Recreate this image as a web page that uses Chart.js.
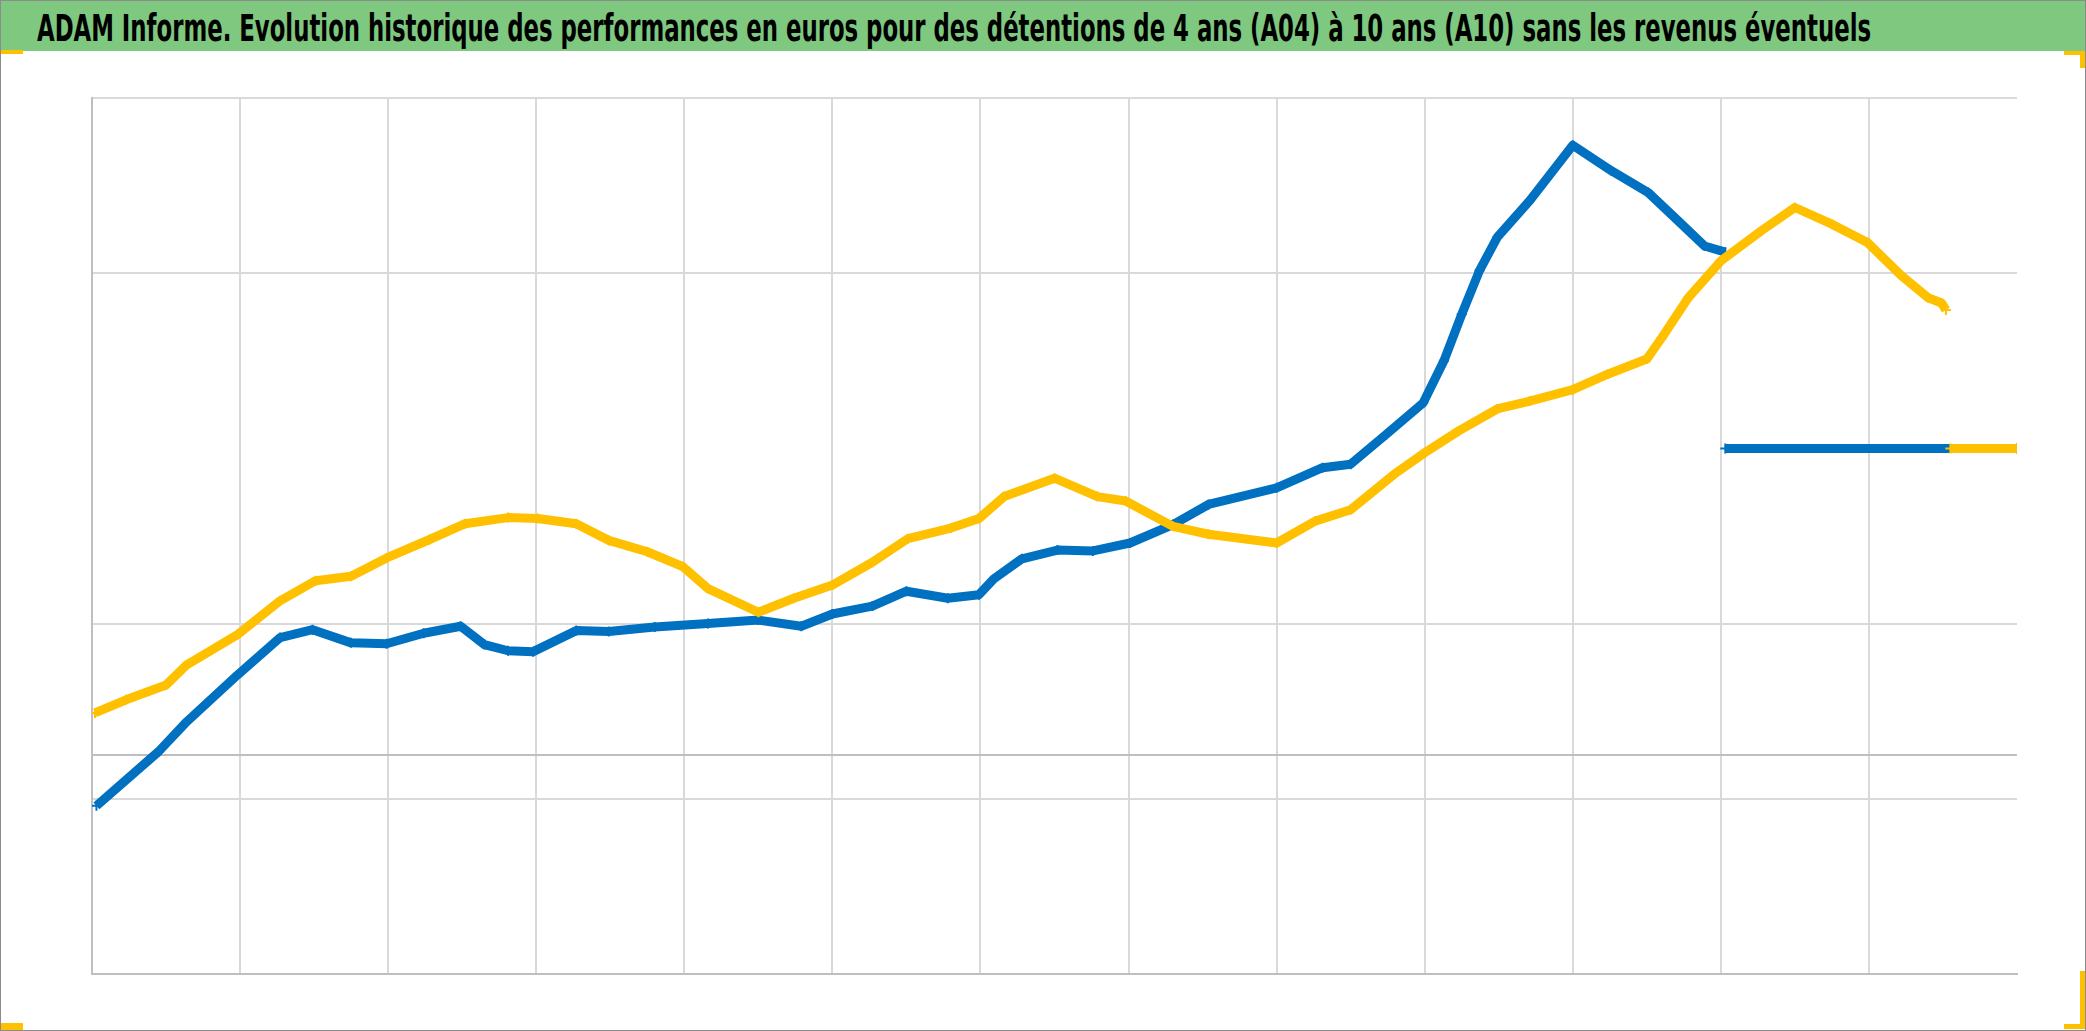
<!DOCTYPE html>
<html>
<head>
<meta charset="utf-8">
<script src="https://cdn.jsdelivr.net/npm/chart.js@4/dist/chart.umd.min.js"></script>
<style>
  html, body { margin: 0; padding: 0; background: #fff; }
  #frame {
    position: relative; width: 2086px; height: 1031px; overflow: hidden;
    box-sizing: border-box; border: 1px solid #8c8c8c; background: #fff;
  }
  #banner {
    position: absolute; left: 0; top: 0; width: 2086px; height: 50px;
    background: #7ec87f;
  }
  #title {
    position: absolute; left: 36px; top: 6px; white-space: nowrap;
    font-family: "Liberation Sans Narrow", "DejaVu Sans Condensed", sans-serif;
    font-weight: bold; font-size: 37px; line-height: 44px; color: #000;
    transform-origin: 0 0;
  }
  #box { position: absolute; left: 0; top: 50px; width: 2086px; height: 981px; }
  .mark { position: absolute; background: #ffc000; }
</style>
</head>
<body>
<div id="frame">
  <div id="banner"><div id="title">ADAM Informe. Evolution historique des performances en euros pour des détentions de 4 ans (A04) à 10 ans (A10) sans les revenus éventuels</div></div>
  <div id="box"><canvas id="my-chart"></canvas></div>
  <div class="mark" style="left:0;top:49px;width:22px;height:4px"></div>
  <div class="mark" style="left:0;top:1022px;width:22px;height:7px"></div>
  <div class="mark" style="left:2063px;top:50px;width:21px;height:4px"></div>
  <div class="mark" style="left:2079px;top:50px;width:5px;height:17px"></div>
  <div class="mark" style="left:2079px;top:970px;width:5px;height:58px"></div>
  <div class="mark" style="left:2063px;top:1023px;width:21px;height:5px"></div>
</div>
<script>
/* Performance history, A04 (blue) and A10 (yellow) */
const xGrid = [0, 1, 2, 3, 4, 5, 6, 7, 8, 9, 10, 11, 12, 13]
const yGrid = [0, 20, 25, 40, 80, 100]

const xA04 = [0.03, 0.45, 0.64, 0.98, 1.27, 1.49, 1.75, 1.99, 2.24, 2.49, 2.65, 2.81, 2.98, 3.27, 3.49, 3.80,
  4.16, 4.50, 4.79, 5.00, 5.27, 5.50, 5.78, 5.99, 6.09, 6.28, 6.52, 6.76, 7.01, 7.30, 7.54, 8.00, 8.31, 8.50,
  8.74, 8.99, 9.13, 9.25, 9.37, 9.49, 9.71, 10.0, 10.26, 10.51, 10.71, 10.89, 11.03, 11.03, 11.03, 13.0]
const yA04 = [19.2, 25.4, 28.8, 34.1, 38.4, 39.3, 37.8, 37.7, 38.9, 39.7, 37.6, 36.9, 36.8, 39.2, 39.1, 39.6,
  40.0, 40.4, 39.7, 41.1, 42.0, 43.7, 42.9, 43.3, 45.1, 47.4, 48.4, 48.3, 49.2, 51.3, 53.6, 55.5, 57.8, 58.2,
  61.6, 65.2, 70.0, 75.3, 80.3, 84.1, 88.3, 94.6, 91.7, 89.2, 86.0, 83.1, 82.4, null, 60, 60]

const xA10 = [0.02, 0.23, 0.50, 0.64, 0.98, 1.27, 1.51, 1.75, 1.99, 2.28, 2.52, 2.81, 3.01, 3.27, 3.49, 3.75,
  3.99, 4.16, 4.50, 4.74, 5.00, 5.27, 5.51, 5.80, 5.99, 6.16, 6.50, 6.79, 6.98, 7.30, 7.54, 8.00, 8.26, 8.50,
  8.79, 9.00, 9.23, 9.49, 9.71, 10.0, 10.24, 10.50, 10.60, 10.78, 11.00, 11.27, 11.50, 11.75, 11.99, 12.22,
  12.40, 12.49, 12.52, 12.53, 12.55, 13.0]
const yA10 = [29.8, 31.3, 33.0, 35.3, 38.7, 42.6, 44.9, 45.4, 47.5, 49.6, 51.4, 52.1, 52.0, 51.4, 49.5, 48.2,
  46.5, 44.0, 41.3, 42.9, 44.4, 47.0, 49.7, 50.9, 52.0, 54.5, 56.6, 54.5, 54.0, 51.1, 50.2, 49.2, 51.7, 53.0,
  57.0, 59.5, 62.0, 64.5, 65.4, 66.7, 68.5, 70.2, 72.6, 77.2, 81.4, 84.8, 87.5, 85.6, 83.5, 79.7,
  77.2, 76.6, 75.8, null, 60, 60]

const toPoints = (xs, ys) => xs.map((x, i) => ({ x: x, y: ys[i] }))

// fit the title to the banner width
const title = document.getElementById('title')
title.style.transform = 'scaleX(' + (1834 / title.scrollWidth) + ')'

const lineSet = (label, xs, ys, color) => ({
  label: label,
  data: toPoints(xs, ys),
  showLine: true,
  spanGaps: false,
  borderColor: color,
  backgroundColor: color,
  borderWidth: 9,
  borderJoinStyle: 'round',
  pointStyle: 'cross',
  pointRadius: 5,
  pointBorderWidth: 2,
  pointHoverRadius: 5
})

const ctx = document.getElementById('my-chart').getContext('2d')
const chart = new Chart(ctx, {
  type: 'scatter',
  data: {
    datasets: [
      lineSet('A10', xA10, yA10, '#ffc000'),
      lineSet('A04', xA04, yA04, '#0070c0')
    ]
  },
  options: {
    responsive: true,
    maintainAspectRatio: false,
    animation: false,
    layout: { padding: { left: 91, right: 70, top: 47, bottom: 58 } },
    plugins: { legend: { display: false }, tooltip: { enabled: false } },
    scales: {
      x: {
        type: 'linear', min: 0, max: 13,
        afterBuildTicks: (scale) => { scale.ticks = xGrid.map(v => ({ value: v })) },
        ticks: { display: false },
        grid: {
          drawTicks: false,
          lineWidth: 2,
          color: (c) => (c.tick && c.tick.value === 13 ? 'rgba(0,0,0,0)' : '#d9d9d9')
        },
        border: { display: true, color: '#bfbfbf', width: 2 }
      },
      y: {
        type: 'linear', min: 0, max: 100,
        afterBuildTicks: (scale) => { scale.ticks = yGrid.map(v => ({ value: v })) },
        ticks: { display: false },
        grid: {
          drawTicks: false,
          lineWidth: 2,
          color: (c) => (c.tick && c.tick.value === 25 ? '#bfbfbf' : '#d9d9d9')
        },
        border: { display: true, color: '#bfbfbf', width: 2 }
      }
    }
  }
})
</script>
</body>
</html>
